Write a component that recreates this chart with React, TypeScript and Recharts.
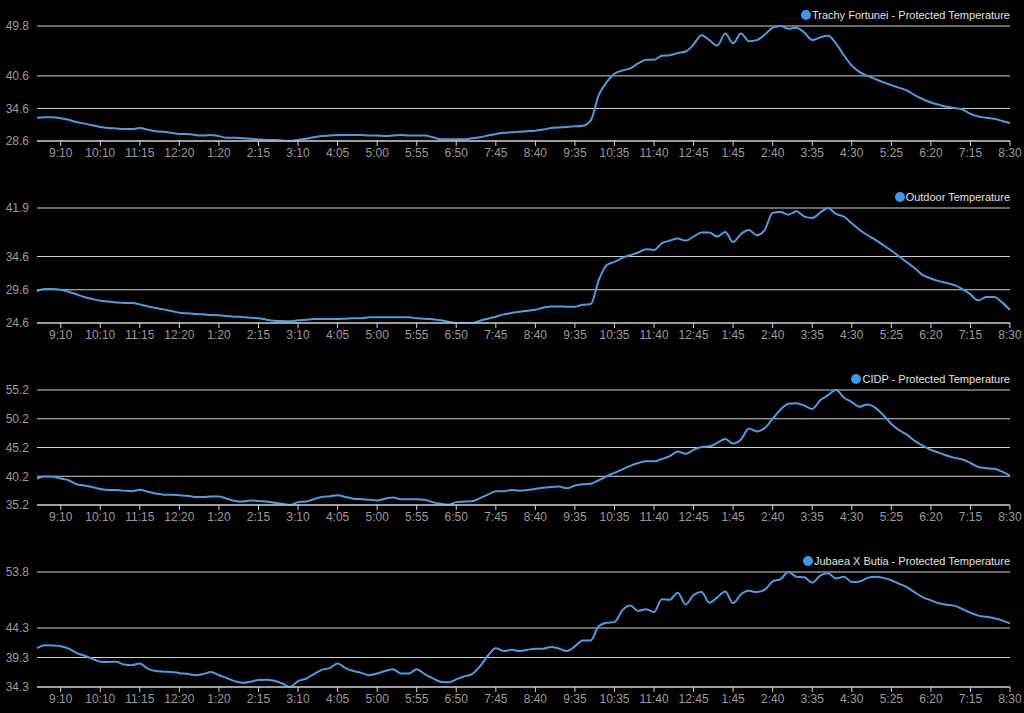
import { CartesianGrid, Line, LineChart, XAxis, YAxis } from "recharts";

const timeLabels = [
  "9:10", "10:10", "11:15", "12:20", "1:20", "2:15", "3:10", "4:05", "5:00", "5:55", "6:50", "7:45", "8:40",
  "9:35", "10:35", "11:40", "12:45", "1:45", "2:40", "3:35", "4:30", "5:25", "6:20", "7:15", "8:30",
];

const trachyTemp = [
  32.9, 33.0, 33.0, 32.8, 32.5, 32.1, 31.8, 31.5, 31.2, 31.0, 30.9, 30.8, 30.8, 31.0, 30.7, 30.4, 30.3, 30.1, 29.9, 29.9,
  29.7, 29.6, 29.7, 29.5, 29.2, 29.2, 29.1, 29.0, 28.9, 28.8, 28.8, 28.7, 28.6, 28.8, 29.0, 29.3, 29.5, 29.6, 29.7, 29.7,
  29.7, 29.7, 29.6, 29.6, 29.5, 29.6, 29.7, 29.6, 29.6, 29.6, 29.3, 28.9, 28.9, 28.9, 28.9, 29.1, 29.3, 29.6, 29.9, 30.1,
  30.2, 30.3, 30.4, 30.5, 30.7, 31.0, 31.1, 31.2, 31.3, 31.4, 32.4, 37.0, 39.4, 41.0, 41.6, 42.0, 42.9, 43.6, 43.6, 44.3,
  44.4, 44.8, 45.1, 46.4, 48.1, 47.2, 46.2, 48.4, 46.6, 48.4, 47.0, 47.2, 48.2, 49.5, 49.8, 49.3, 49.5, 48.6, 47.2, 47.7,
  48.0, 46.6, 44.4, 42.5, 41.3, 40.6, 40.0, 39.4, 38.9, 38.4, 37.9, 37.0, 36.3, 35.7, 35.3, 34.9, 34.7, 34.4, 33.6, 33.1,
  32.9, 32.7, 32.3, 31.9,
];

const outdoorTemp = [
  29.4, 29.7, 29.7, 29.6, 29.3, 28.9, 28.5, 28.2, 27.95, 27.85, 27.7, 27.6, 27.6, 27.4, 27.1, 26.85, 26.65, 26.4, 26.15, 26.05,
  25.95, 25.9, 25.8, 25.75, 25.65, 25.55, 25.5, 25.4, 25.3, 25.1, 24.95, 24.9, 24.85, 25.0, 25.1, 25.2, 25.2, 25.2, 25.2, 25.25,
  25.3, 25.3, 25.45, 25.45, 25.45, 25.45, 25.45, 25.45, 25.3, 25.25, 25.15, 25.0, 24.8, 24.6, 24.6, 24.6, 24.95, 25.25, 25.55, 25.9,
  26.1, 26.3, 26.45, 26.6, 26.9, 27.1, 27.1, 27.05, 27.05, 27.35, 27.45, 31.0, 33.3, 33.8, 34.4, 34.8, 35.2, 35.7, 35.6, 36.6,
  37.0, 37.3, 37.0, 37.6, 38.2, 38.2, 37.6, 38.3, 36.8, 38.0, 38.6, 37.8, 38.6, 41.2, 41.3, 40.9, 41.4, 40.6, 40.4, 41.2,
  41.9, 41.0, 40.6, 39.6, 38.6, 37.8, 37.1, 36.3, 35.5, 34.6, 33.7, 32.8, 31.8, 31.3, 30.9, 30.6, 30.3, 29.7, 28.9, 28.0,
  28.5, 28.5, 27.7, 26.55,
];

const cidpTemp = [
  39.8, 40.15, 40.1, 39.8, 39.5, 38.8, 38.6, 38.3, 38.0, 37.8, 37.8, 37.7, 37.6, 37.85, 37.5, 37.2, 37.0, 37.0, 36.9, 36.8,
  36.6, 36.6, 36.7, 36.7, 36.3, 35.9, 35.8, 36.0, 35.9, 35.8, 35.6, 35.4, 35.2, 35.7, 35.8, 36.2, 36.6, 36.7, 36.9, 36.6,
  36.3, 36.2, 36.1, 36.0, 36.3, 36.5, 36.2, 36.2, 36.2, 36.1, 35.7, 35.4, 35.25, 35.7, 35.8, 35.85, 36.4, 37.0, 37.6, 37.6,
  37.8, 37.7, 37.8, 38.0, 38.2, 38.35, 38.4, 38.1, 38.6, 38.8, 38.9, 39.5, 40.2, 40.8, 41.4, 42.0, 42.5, 42.8, 42.8, 43.2,
  43.7, 44.5, 44.1, 44.8, 45.3, 45.4, 46.0, 46.7, 45.9, 46.6, 48.5, 48.0, 48.6, 50.2, 51.8, 52.8, 52.9, 52.5, 51.9, 53.4,
  54.3, 55.2, 53.9, 53.1, 52.3, 52.7, 52.1, 50.8, 49.3, 48.2, 47.4, 46.3, 45.5, 44.8, 44.3, 43.8, 43.4, 43.1, 42.5, 41.8,
  41.6, 41.5, 41.0, 40.3,
];

const jubaeaTemp = [
  40.9, 41.4, 41.35, 41.2, 40.8, 40.1, 39.6, 39.1, 38.6, 38.55, 38.6, 38.1, 38.0, 38.3, 37.4, 37.0, 36.9, 36.85, 36.65, 36.55,
  36.3, 36.5, 36.85, 36.3, 35.8, 35.3, 35.0, 35.2, 35.5, 35.55, 35.35, 34.9, 34.3, 35.3, 35.7, 36.5, 37.2, 37.5, 38.3, 37.5,
  37.0, 36.7, 36.3, 36.6, 37.0, 37.3, 36.6, 36.6, 37.3, 36.5, 35.8, 35.2, 35.1, 35.6, 36.1, 36.5, 37.8, 39.6, 40.85, 40.4,
  40.6, 40.4, 40.6, 40.8, 40.8, 41.1, 40.8, 40.4, 41.2, 42.2, 42.2, 44.6, 45.2, 45.3, 47.3, 48.1, 47.2, 47.5, 47.0, 49.2,
  49.1, 50.3, 48.3, 49.9, 50.4, 48.6, 49.5, 50.5, 48.5, 50.0, 50.6, 50.4, 50.8, 52.2, 52.6, 53.8, 53.0, 52.9, 52.0, 53.2,
  53.6, 52.7, 53.0, 52.1, 52.2, 52.8, 53.0, 52.8, 52.4, 51.8, 51.2, 50.3, 49.5, 49.0, 48.5, 48.25, 48.05, 47.5, 46.9, 46.4,
  46.2, 45.95, 45.6, 45.1,
];

const trachyTicks = [28.6, 34.6, 40.6, 49.8];
const outdoorTicks = [24.6, 29.6, 34.6, 41.9];
const cidpTicks = [35.2, 40.2, 45.2, 50.2, 55.2];
const jubaeaTicks = [34.3, 39.3, 44.3, 53.8];

// first labelled sample and samples between labels
const firstLabel = 3;
const labelStep = 5;

const FONT = '"Liberation Sans", Arial, sans-serif';
const LINE = "#4d9de0";
const GRID = "#d2d2d2";
const PANEL_H = 182;

function Panel({ name, values, ticks, top }: { name: string; values: number[]; ticks: number[]; top: number }) {
  const data = values.map((v, i) => ({ i, v }));
  const xTicks = timeLabels.map((_, j) => firstLabel + j * labelStep);

  return (
    <div style={{ position: "absolute", left: 0, top, width: 1024, height: PANEL_H }}>
      <LineChart width={1024} height={PANEL_H} data={data} margin={{ top: 26, right: 14, bottom: 11, left: 0 }}>
        <CartesianGrid vertical={false} stroke={GRID} strokeDasharray="" />
        <XAxis
          dataKey="i"
          type="number"
          domain={[0, values.length - 1]}
          ticks={xTicks}
          interval={0}
          tickFormatter={(v) => timeLabels[(v - firstLabel) / labelStep] ?? ""}
          stroke={GRID}
          tickSize={5}
          tick={{ fill: "#9a9a9a", fontSize: 12, fontFamily: FONT }}
        />
        <YAxis
          width={37}
          type="number"
          domain={[ticks[0], ticks[ticks.length - 1]]}
          ticks={ticks}
          interval={0}
          axisLine={false}
          tickLine={false}
          tick={{ fill: "#9a9a9a", fontSize: 12, fontFamily: FONT }}
        />
        <Line type="monotone" dataKey="v" stroke={LINE} strokeWidth={2} dot={false} isAnimationActive={false} />
      </LineChart>
      <div
        style={{
          position: "absolute",
          right: 14,
          top: 8,
          display: "flex",
          alignItems: "center",
          fontFamily: FONT,
          fontSize: 11,
          color: "#e0e0e0",
          lineHeight: "14px",
        }}
      >
        <span style={{ width: 10, height: 10, borderRadius: "50%", background: "#3c9ae8", marginRight: 1 }} />
        {name}
      </div>
    </div>
  );
}

export default function App() {
  return (
    <div style={{ position: "fixed", left: 0, top: 0, width: 1024, height: 713, background: "#000", overflow: "hidden" }}>
      <Panel name="Trachy Fortunei - Protected Temperature" values={trachyTemp} ticks={trachyTicks} top={0} />
      <Panel name="Outdoor Temperature" values={outdoorTemp} ticks={outdoorTicks} top={PANEL_H} />
      <Panel name="CIDP - Protected Temperature" values={cidpTemp} ticks={cidpTicks} top={PANEL_H * 2} />
      <Panel name="Jubaea X Butia - Protected Temperature" values={jubaeaTemp} ticks={jubaeaTicks} top={PANEL_H * 3} />
    </div>
  );
}
